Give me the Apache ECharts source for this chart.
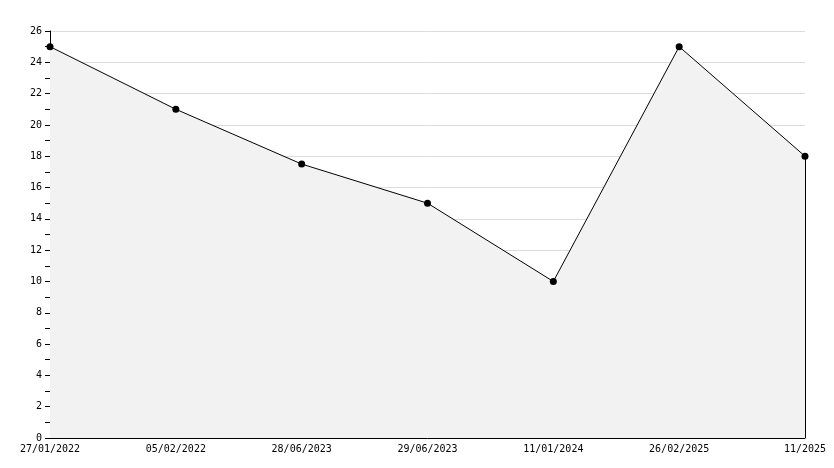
<!DOCTYPE html>
<html><head><meta charset="utf-8">
<script src="https://cdn.jsdelivr.net/npm/echarts@6/dist/echarts.min.js"></script>
<style>html,body{margin:0;padding:0;background:#fff}#c{width:834px;height:468px}</style>
</head><body><div id="c"></div>
<script>
const categories = ['27/01/2022','05/02/2022','28/06/2023','29/06/2023','11/01/2024','26/02/2025','11/2025'];
const values = [25, 21, 17.5, 15, 10, 25, 18];
const yTicks = {min: 0, max: 26, interval: 2};

const chart = echarts.init(document.getElementById('c'));
const font = {fontFamily: 'DejaVu Sans Mono', fontSize: 10, color: '#000'};
chart.setOption({
  animation: false,
  backgroundColor: '#fff',
  grid: {left: 50, right: 29, top: 31, bottom: 30, containLabel: false},
  xAxis: {
    type: 'category', data: categories, boundaryGap: false,
    axisLine: {lineStyle: {color: '#000', width: 1}},
    axisTick: {inside: true, length: 5, lineStyle: {color: '#000'}},
    axisLabel: Object.assign({margin: 6, interval: 0}, font),
    splitLine: {show: false}
  },
  yAxis: {
    type: 'value', min: yTicks.min, max: yTicks.max, interval: yTicks.interval,
    axisLine: {show: true, lineStyle: {color: '#000', width: 1}},
    axisTick: {show: true, length: 5, lineStyle: {color: '#000'}},
    minorTick: {show: true, splitNumber: 2, length: 5, lineStyle: {color: '#000'}},
    axisLabel: Object.assign({margin: 8}, font),
    splitLine: {show: true, lineStyle: {color: '#dddddd', width: 1}}
  },
  series: [{
    type: 'line', data: values,
    symbol: 'circle', symbolSize: 7,
    itemStyle: {color: '#000'},
    lineStyle: {color: '#000', width: 1},
    areaStyle: {color: '#f2f2f2', opacity: 1},
    markLine: {
      silent: true, symbol: 'none', label: {show: false},
      lineStyle: {color: '#000', width: 1, type: 'solid'},
      data: [[{coord: [categories.length - 1, 0]}, {coord: [categories.length - 1, values[values.length - 1]]}]]
    }
  }]
});
</script></body></html>
